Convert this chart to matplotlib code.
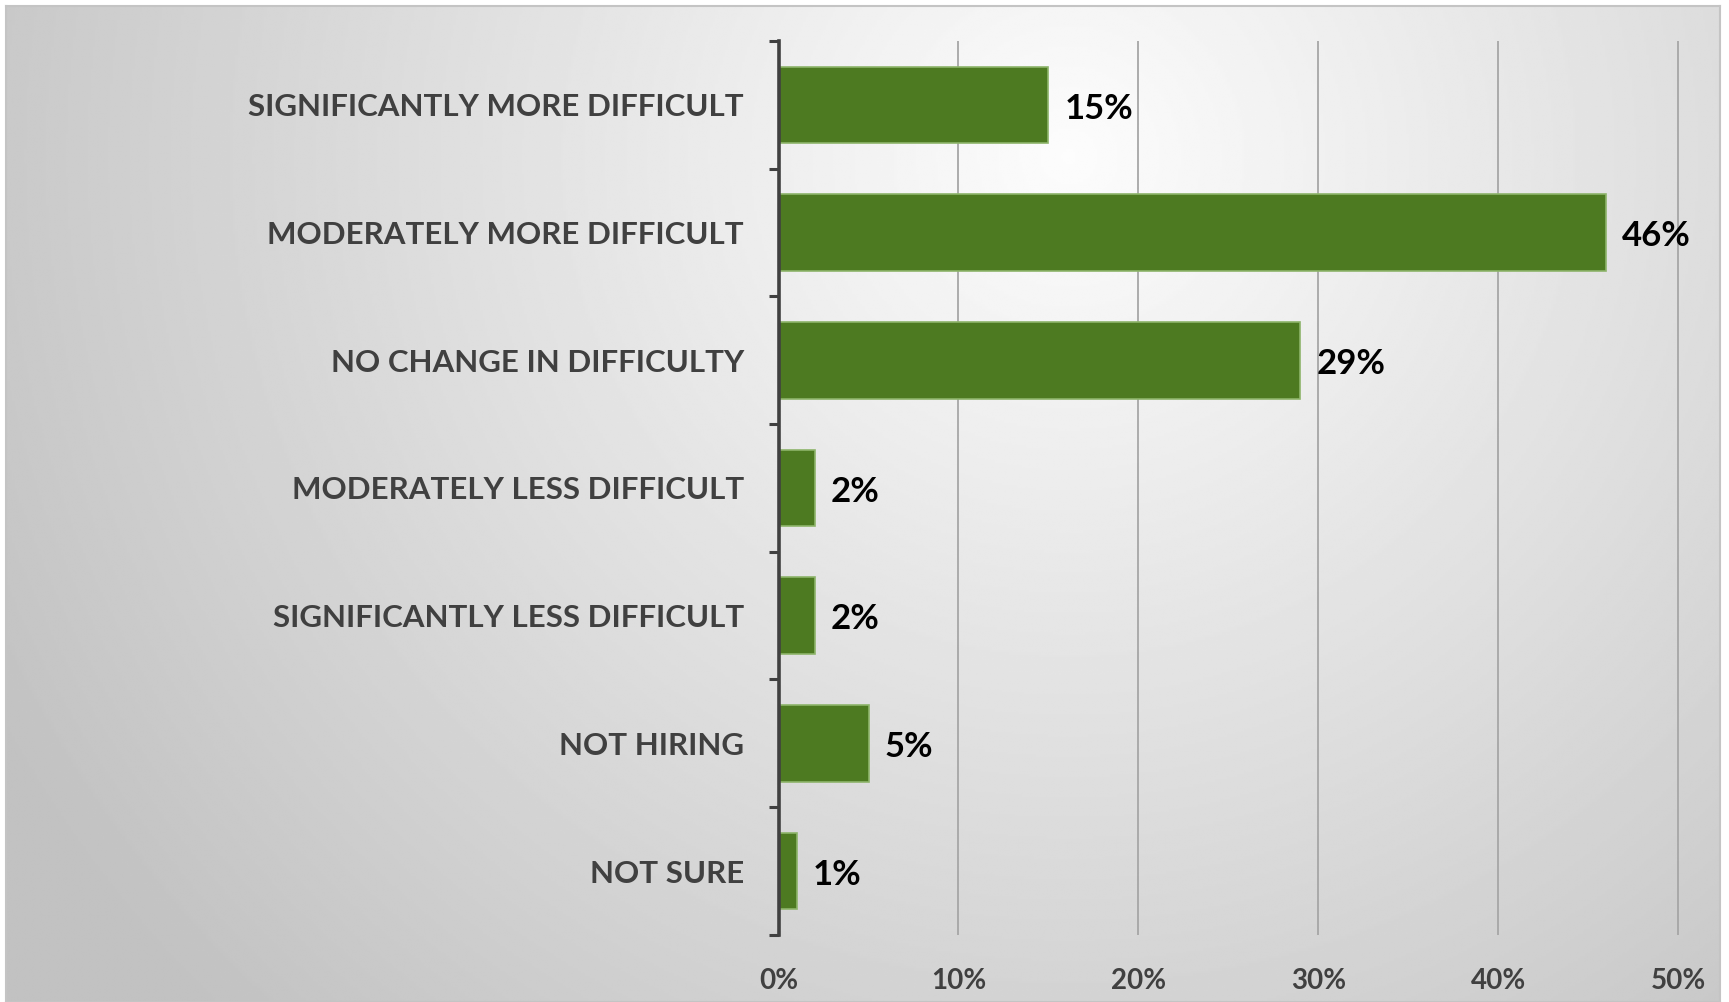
import matplotlib.pyplot as plt
import numpy as np

categories = [
    "SIGNIFICANTLY MORE DIFFICULT",
    "MODERATELY MORE DIFFICULT",
    "NO CHANGE IN DIFFICULTY",
    "MODERATELY LESS DIFFICULT",
    "SIGNIFICANTLY LESS DIFFICULT",
    "NOT HIRING",
    "NOT SURE",
]
values = [15, 46, 29, 2, 2, 5, 1]
xticks = [0, 10, 20, 30, 40, 50]
xtick_labels = ["0%", "10%", "20%", "30%", "40%", "50%"]

plt.rcParams["font.family"] = ["Lato", "DejaVu Sans"]

fig = plt.figure(figsize=(17.29, 10.02), dpi=100)
fig.patch.set_facecolor("white")

# background panel with radial gradient
bg = fig.add_axes([0.0035, 0.0, 0.9915, 0.994])
ny, nx = 400, 700
yy, xx = np.mgrid[0:1:ny * 1j, 0:1:nx * 1j]
d = np.sqrt(((xx - 0.62) * 1.7) ** 2 + (yy - 0.85) ** 2)
shade = np.clip(0.99 - 0.19 * d, 0.76, 1.0)
bg.imshow(shade, cmap="gray", vmin=0, vmax=1, origin="lower",
          extent=[0, 1, 0, 1], aspect="auto", interpolation="bilinear")
bg.set_xticks([])
bg.set_yticks([])
for s in bg.spines.values():
    s.set_color("#c4c4c4")
    s.set_linewidth(1.5)

ax = fig.add_axes([0.4503, 0.067, 0.5218, 0.892])
ax.patch.set_alpha(0)
y = np.arange(len(categories))
ax.barh(y, values, height=0.6, color="#4d7a21", edgecolor="#8db46a",
        linewidth=1.2, zorder=3)
ax.set_ylim(len(categories) - 0.5, -0.5)
ax.set_xlim(0, 50.15)

ax.set_yticks(y)
ax.set_yticklabels(categories, fontsize=22.5, fontweight="bold", color="#404040")
ax.tick_params(axis="y", which="major", length=0, pad=25)
# boundary ticks on the left spine
ax.set_yticks(np.arange(len(categories) + 1) - 0.5, minor=True)
ax.tick_params(axis="y", which="minor", length=7, width=2.2, color="#404040")

ax.set_xticks(xticks)
ax.set_xticklabels(xtick_labels, fontsize=20, fontweight="bold", color="#404040")
ax.tick_params(axis="x", length=0, pad=24)
ax.grid(axis="x", color="#a6a6a6", lw=1.3, zorder=1)

for s in ["top", "right", "bottom"]:
    ax.spines[s].set_visible(False)
ax.spines["left"].set_color("#404040")
ax.spines["left"].set_linewidth(2.6)
ax.spines["left"].set_zorder(5)

for yi, v in zip(y, values):
    ax.text(v + 0.9, yi + 0.03, f"{v}%", va="center", ha="left",
            fontsize=25, fontweight="bold", color="black")

fig.savefig("out.png", dpi=100)
